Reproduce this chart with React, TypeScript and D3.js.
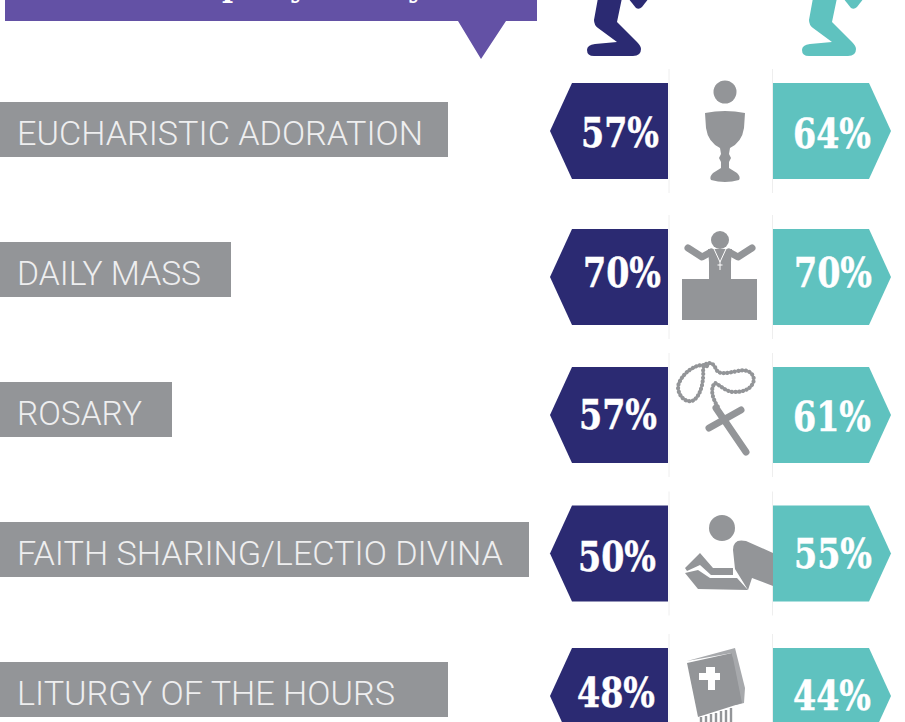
import React from "react";
import * as d3 from "d3";

const categories = ["EUCHARISTIC ADORATION", "DAILY MASS", "ROSARY", "FAITH SHARING/LECTIO DIVINA", "LITURGY OF THE HOURS"];
const leftValues = [57, 70, 57, 50, 48];
const rightValues = [64, 70, 61, 55, 44];

const W = 905, H = 722;
const NAVY = "#2b2a72", TEAL = "#5fc2bf", GREY = "#939598", PURPLE = "#6351a5";
const labelWidths = [448, 231, 172, 529, 448];
const labelTextWidths = [406, 184, 125, 486, 378];
const badgeCenters = [131, 277, 415, 553.5, 696];
const leftTextStart = [581, 583, 579, 578, 577];
const rightTextStart = [793, 794, 793, 794, 793];
const leftTextMid = [132, 272, 414, 556, 692];
const rightTextMid = [133, 272, 416, 553, 695];

const y = d3.scalePoint<number>().domain(d3.range(5)).range([130, 690]);

function hex(side: "l" | "r", cy: number) {
  const p = d3.path();
  if (side === "l") {
    p.moveTo(668, cy - 48); p.lineTo(572, cy - 48); p.lineTo(550, cy); p.lineTo(572, cy + 48); p.lineTo(668, cy + 48);
  } else {
    p.moveTo(773, cy - 48); p.lineTo(869, cy - 48); p.lineTo(891, cy); p.lineTo(869, cy + 48); p.lineTo(773, cy + 48);
  }
  p.closePath();
  return p.toString();
}

const Kneeler = ({ x, fill }: { x: number; fill: string }) => (
  <g transform={`translate(${x},0)`} fill={fill}>
    <path d="M11,-2 L7,20 Q7,25 11,28 L30,42 L8,44 Q0,45 0,50 Q0,56 7,56 L46,56 Q54,56 54,49 Q54,46 50,42 L30,22 L35,-2 Z" />
    <path d="M41,-2 L49,8 Q52,10 55,7 L62,-2 Z" />
  </g>
);

const Chalice = () => (
  <g fill={GREY}>
    <circle cx="725" cy="92" r="11.5" />
    <path d="M705,113 Q725,109 745,113 L744,128 Q742,142 730,148 L729,154 L731,158 L729,162 L729,168 L737,173 Q741,177 739,180 Q725,184 711,180 Q709,177 713,173 L721,168 L721,162 L719,158 L721,154 L720,148 Q708,142 706,128 Z" />
  </g>
);

const Priest = () => (
  <g fill={GREY}>
    <circle cx="720" cy="240" r="9" />
    <path d="M708,249 L732,249 L731,262 L731,279 L709,279 L709,262 Z" />
    <path d="M688,248 L702,257 L711,252 M752,248 L738,257 L729,252" fill="none" stroke={GREY} strokeWidth="7" strokeLinecap="round" strokeLinejoin="round" />
    <rect x="682" y="279" width="75" height="41" />
    <path d="M714,249 L720,262 L726,249 M720,262 L720,270 M717.5,265 L722.5,265" fill="none" stroke="#fff" strokeWidth="1" />
  </g>
);

const Rosary = () => (
  <g>
    <path d="M707,366 C698,362 682,372 678,386 C678,398 688,404 694,400 C702,394 704,378 703,369 C704,362 712,361 715,367 C718,376 726,373 738,371 C750,368 756,376 753,383 C750,390 742,392 734,392 C726,392 720,385 715,383 C710,388 712,398 718,407"
      fill="none" stroke={GREY} strokeWidth="4.2" strokeDasharray="0.1 3.6" strokeLinecap="round" />
    <path d="M707,366 C698,362 682,372 678,386 C678,398 688,404 694,400 C702,394 704,378 703,369 C704,362 712,361 715,367 C718,376 726,373 738,371 C750,368 756,376 753,383 C750,390 742,392 734,392 C726,392 720,385 715,383 C710,388 712,398 718,407"
      fill="none" stroke={GREY} strokeWidth="1.5" />
    <path d="M716,408 L746,452" stroke={GREY} strokeWidth="7" strokeLinecap="round" />
    <path d="M709,428 L741,410" stroke={GREY} strokeWidth="7" strokeLinecap="round" />
  </g>
);

const Reader = () => (
  <g fill={GREY}>
    <circle cx="722" cy="528" r="13" />
    <path d="M773,553 L746,541 Q733,538 733,550 L735,569 L748,590 L752,578 L773,586 Z" />
    <path d="M685,568 L700,553 L713,568 L733,568 L733,575 L711,575 L700,565 L687,571 Z" />
    <path d="M685,573 L698,570 L710,578 L737,578 L748,590 L698,589 Z" />
  </g>
);

const Book = () => (
  <g>
    <path d="M687,661 L735,648 L745,688 L744,703 L736,705 L732,653 Z" fill="#a7a9ac" />
    <path d="M687,663 L732,653 L742,703 L698,717 Z" fill={GREY} />
    <path d="M706,667 L715,667 L715,673 L720,673 L720,680 L715,680 L715,690 L708,690 L708,680 L699,680 L699,673 L706,673 Z" fill="#fff" />
    <path d="M701,717 L701,722 M706,716 L706,722 M711,714 L711,722 M716,713 L716,722 M721,711 L721,722 M726,710 L726,722 M731,708 L731,722" stroke={GREY} strokeWidth="2.4" />
  </g>
);

const percentProps = {
  fontFamily: "DejaVu Serif", fontWeight: 700, fontSize: 41, fill: "#fff",
  stroke: "#fff", strokeWidth: 0.5, textLength: 78, lengthAdjust: "spacingAndGlyphs",
} as const;

export default function App() {
  return (
    <svg width={W} height={H} viewBox={`0 0 ${W} ${H}`} style={{ position: "fixed", left: 0, top: 0, background: "#fff" }}>
      <path d="M5,-5 L537,-5 L537,21 L506,21 L481,59 L458,21 L5,21 Z" fill={PURPLE} />
      <text x={222} y={-3} fontFamily="DejaVu Serif" fontWeight={700} fontSize={30} fill="#fff">p</text>
      <text x={290} y={-3} fontFamily="DejaVu Serif" fontWeight={700} fontSize={30} fill="#fff">y</text>
      <text x={408} y={-3} fontFamily="DejaVu Serif" fontWeight={700} fontSize={30} fill="#fff">y</text>
      <Kneeler x={587} fill={NAVY} />
      <Kneeler x={802} fill={TEAL} />
      {categories.map((c, i) => (
        <g key={c}>
          <rect x={0} y={y(i)! - 28} width={labelWidths[i]} height={55} fill={GREY} />
          <text x={17} y={y(i)! + 15} fontFamily="Roboto" fontWeight={300} fontSize={33} fill="#eeeeef"
            textLength={labelTextWidths[i]} lengthAdjust="spacingAndGlyphs">{c}</text>
          <line x1={669} x2={669} y1={badgeCenters[i] - 62} y2={badgeCenters[i] + 62} stroke="#eeeeee" strokeWidth={1} />
          <line x1={772.5} x2={772.5} y1={badgeCenters[i] - 62} y2={badgeCenters[i] + 62} stroke="#eeeeee" strokeWidth={1} />
          <path d={hex("l", badgeCenters[i])} fill={NAVY} />
          <path d={hex("r", badgeCenters[i])} fill={TEAL} />
          <text x={leftTextStart[i]} y={leftTextMid[i] + 15} {...percentProps}>{`${leftValues[i]}%`}</text>
          <text x={rightTextStart[i]} y={rightTextMid[i] + 15} {...percentProps}>{`${rightValues[i]}%`}</text>
        </g>
      ))}
      <Chalice /><Priest /><Rosary /><Reader /><Book />
    </svg>
  );
}
